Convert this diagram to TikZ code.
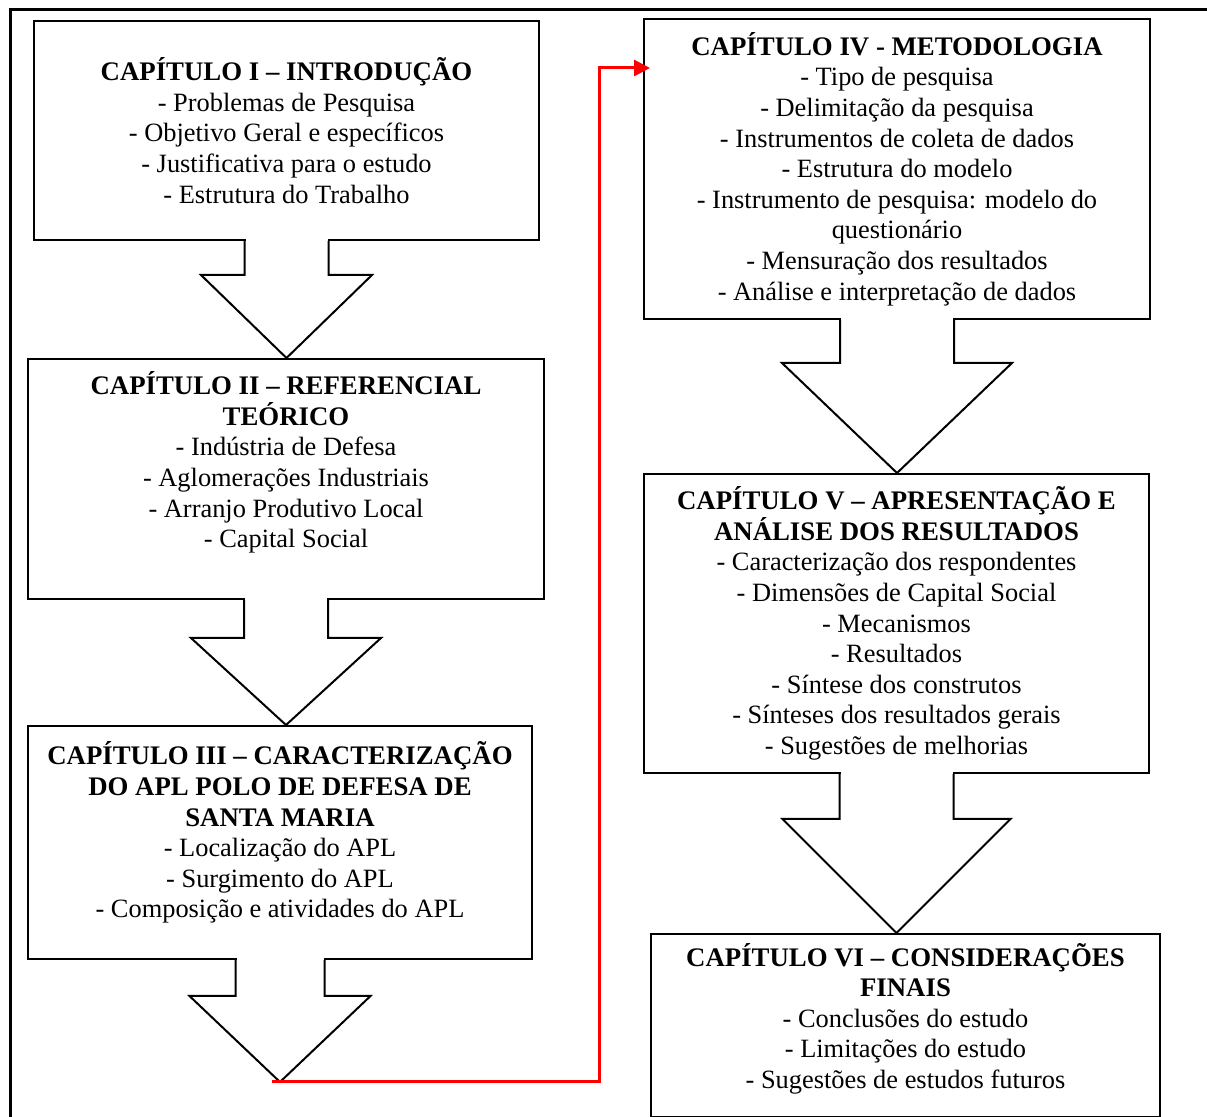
\documentclass[tikz,border=0pt]{standalone}
\usepackage{fontspec}
\setmainfont{Liberation Serif}
\usetikzlibrary{calc,arrows.meta}

% bold chapter heading line
\newcommand{\chaphead}[1]{{\fontsize{13.4}{15.3}\selectfont\bfseries #1}}
% block arrow out of the bottom of a box:
% #1 box, #2 tip, #3 half shaft width, #4 shaft length, #5 half head width
\newcommand{\chaparrow}[5]{%
  \fill[white] ($(#1.south)+(-#3+1,-2)$) rectangle ($(#1.south)+(#3-1,2)$);
  \draw[blockarrow] ($(#1.south)+(-#3,0)$) -- ++(0,#4)
    -- ($(#1.south)+(-#5,#4)$) -- (#1.south |- #2)
    -- ($(#1.south)+(#5,#4)$) -- ($(#1.south)+(#3,#4)$)
    -- ($(#1.south)+(#3,0)$);
}

\begin{document}
\begin{tikzpicture}[
  x=0.5pt, y=-0.5pt,
  chapbox/.style 2 args={rectangle, draw, line width=1pt, fill=white,
    anchor=north west, inner sep=0pt, align=center,
    minimum width=#1*0.5pt, minimum height=#2*0.5pt,
    font=\fontsize{13.2}{15.3}\selectfont},
  blockarrow/.style={line width=1pt, line join=miter},
  outerframe/.style={line width=1.5pt},
  redlink/.style={draw=red, line width=1.5pt, -{Triangle[length=8pt,width=8pt]}}
]
\useasboundingbox (0,0) rectangle (1207,1117);

%% outer frame (runs off the page right and bottom)
\draw[outerframe] (10,1117) -- (10,10) -- (1207,10);

%% Left column
\node[chapbox={505}{219}] (cap1) at (33,20)
  {\chaphead{CAPÍTULO I – INTRODUÇÃO}\\- Problemas de Pesquisa\\- Objetivo Geral e específicos\\- Justificativa para o estudo\\- Estrutura do Trabalho};
\node[chapbox={516}{240}] (cap2) at (27,358)
  {\chaphead{CAPÍTULO II – REFERENCIAL}\\\chaphead{TEÓRICO}\\- Indústria de Defesa\\- Aglomerações Industriais\\- Arranjo Produtivo Local\\- Capital Social\\[0.3em]};
\node[chapbox={504}{233}] (cap3) at (27,725)
  {\chaphead{CAPÍTULO III – CARACTERIZAÇÃO}\\\chaphead{DO APL POLO DE DEFESA DE}\\\chaphead{SANTA MARIA}\\- Localização do APL\\- Surgimento do APL\\- Composição e atividades do APL\\[-0.2em]};

%% Right column
\node[chapbox={506}{300}] (cap4) at (643,18)
  {\chaphead{CAPÍTULO IV - METODOLOGIA}\\- Tipo de pesquisa\\- Delimitação da pesquisa\\- Instrumentos de coleta de dados\\- Estrutura do modelo\\- Instrumento de pesquisa: modelo do\\questionário\\- Mensuração dos resultados\\- Análise e interpretação de dados};
\node[chapbox={505}{299}] (cap5) at (643,473)
  {\chaphead{CAPÍTULO V – APRESENTAÇÃO E}\\\chaphead{ANÁLISE DOS RESULTADOS}\\- Caracterização dos respondentes\\- Dimensões de Capital Social\\- Mecanismos\\- Resultados\\- Síntese dos construtos\\- Sínteses dos resultados gerais\\- Sugestões de melhorias};
\node[chapbox={509}{183}] (cap6) at (650,933)
  {\\[-0.8em]\chaphead{CAPÍTULO VI – CONSIDERAÇÕES}\\\chaphead{FINAIS}\\- Conclusões do estudo\\- Limitações do estudo\\- Sugestões de estudos futuros};

%% Block arrows
\coordinate (end3) at (279,1082);
\chaparrow{cap1}{cap2.north}{42}{34}{85.5}
\chaparrow{cap2}{cap3.north}{42}{38}{95}
\chaparrow{cap3}{end3}{44.5}{36}{90.5}
\chaparrow{cap4}{cap5.north}{57}{43}{115}
\chaparrow{cap5}{cap6.north}{57}{45}{114}

%% Red link to the right column
\coordinate (turn) at (599,68);
\draw[redlink] ($(end3)+(-7,0)$) -| (turn) -- ($(turn -| cap4.west)+(7,0)$);

\end{tikzpicture}
\end{document}
